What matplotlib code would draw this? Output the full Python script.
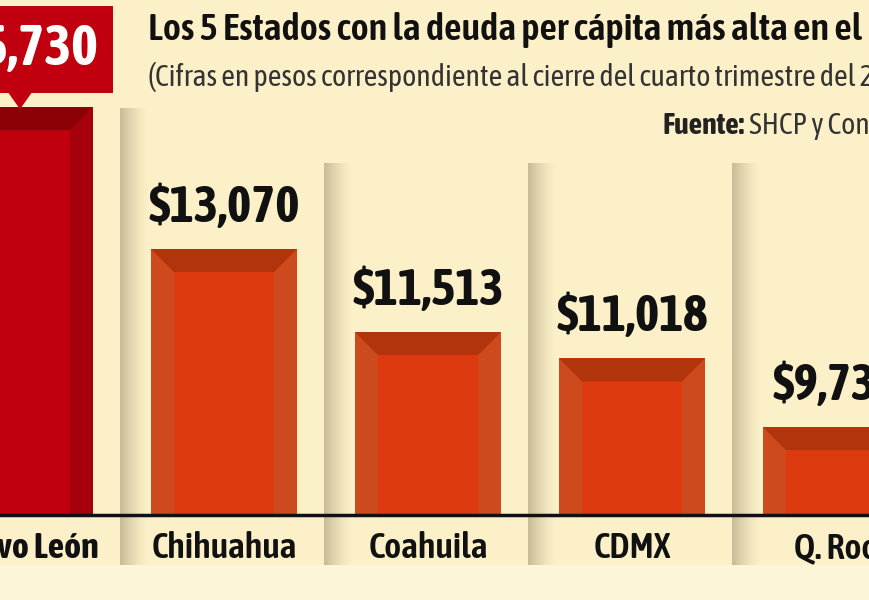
import matplotlib
matplotlib.use("Agg")
import matplotlib.pyplot as plt
from matplotlib.patches import Rectangle, Polygon
import numpy as np

# ---- data ----
states = ["Nuevo León", "Chihuahua", "Coahuila", "CDMX", "Q. Roo"]
values = [15730, 13070, 11513, 11018, 9730]
value_labels = ["$15,730", "$13,070", "$11,513", "$11,018", "$9,730"]
title = "Los 5 Estados con la deuda per cápita más alta en el País"
subtitle = "(Cifras en pesos correspondiente al cierre del cuarto trimestre del 2023)"
source_bold = "Fuente:"
source_rest = " SHCP y Conapo"

# ---- style ----
BG = "#FCF0C8"
BG_LOW = "#FDF5D8"
FACE = "#DE3A10"
SIDE = "#CD4A1E"
TOPB = "#B2340D"
NL_FACE = "#C0000E"
NL_SIDE = "#A6000C"
NL_TOP = "#8C0008"
FONT = ["Asap Condensed", "DejaVu Sans"]

W, H = 870, 600
BASE_PX = 515          # baseline pixel row (from top)
Y0 = 8080              # value at baseline
PXV = 18.76            # value per pixel
SLOT = 204.0           # pixels per category
X0PX = 20.0            # pixel of category 0 center

fig = plt.figure(figsize=(W / 100, H / 100), dpi=100)
fig.patch.set_facecolor(BG_LOW)
ax = fig.add_axes([0, (H - BASE_PX) / H, 1, BASE_PX / H])
ax.set_xlim(-X0PX / SLOT, (W - X0PX) / SLOT)
ax.set_ylim(Y0, Y0 + BASE_PX * PXV)
ax.axis("off")
ax.set_facecolor("none")

# upper background panel
fig.add_artist(Rectangle((0, (H - 565) / H), 1, 565 / H, transform=fig.transFigure,
                         facecolor=BG, edgecolor="none", zorder=0))

def dxp(px):
    return px / SLOT

def dyp(px):
    return px * PXV

# gradient shadow strips between categories
strip_tops = [108, 163, 163, 163]
for i, top in enumerate(strip_tops):
    xs = i + 0.49
    n = 14
    for k in range(n):
        a = 0.55 * (1 - k / n) ** 1.5
        r = Rectangle((xs + dxp(2 * k), Y0 + dyp(BASE_PX - top)), dxp(2.2),
                      -dyp(BASE_PX - top) - dyp(50), facecolor="#9E9370", alpha=a,
                      edgecolor="none", zorder=1, clip_on=False)
        ax.add_patch(r)

bw = 146 / SLOT
bev_x = dxp(23)
bev_y = dyp(23)
for i, (v, lab) in enumerate(zip(values, value_labels)):
    nl = i == 0
    face, side, topc = (NL_FACE, NL_SIDE, NL_TOP) if nl else (FACE, SIDE, TOPB)
    ax.bar(i, v - Y0, bottom=Y0, width=bw, color=face, edgecolor="none", zorder=2)
    l, r = i - bw / 2, i + bw / 2
    # side bevels
    ax.add_patch(Polygon([(l, Y0), (l, v), (l + bev_x, v - bev_y), (l + bev_x, Y0)],
                         closed=True, facecolor=side, edgecolor="none", zorder=3))
    ax.add_patch(Polygon([(r, Y0), (r, v), (r - bev_x, v - bev_y), (r - bev_x, Y0)],
                         closed=True, facecolor=side, edgecolor="none", zorder=3))
    # top bevel
    ax.add_patch(Polygon([(l, v), (r, v), (r - bev_x, v - bev_y), (l + bev_x, v - bev_y)],
                         closed=True, facecolor=topc, edgecolor="none", zorder=3))
    if nl:
        # red callout box with pointer
        bx_r = i + dxp(93)
        bx_l = i - dxp(120)
        yb = v + dyp(14)
        yt = v + dyp(101)
        ax.add_patch(Rectangle((bx_l, yb), bx_r - bx_l, yt - yb, facecolor=NL_FACE,
                               edgecolor="none", zorder=4, clip_on=False))
        ax.add_patch(Polygon([(i - dxp(12), yb + dyp(1)), (i + dxp(12), yb + dyp(1)), (i, v - dyp(2))],
                             closed=True, facecolor=NL_FACE, edgecolor="none", zorder=4))
        ax.text(i + dxp(78), (yb + yt) / 2, lab, ha="right", va="center", color="white",
                fontsize=41, fontweight="bold", family=FONT, zorder=5)
    else:
        ax.text(i, v + dyp(27), lab, ha="center", va="baseline", color="#111111",
                fontsize=37, fontweight="bold", family=FONT, zorder=5)
    ax.text(i, Y0 - dyp(33), states[i], ha="center", va="center", color="#111111",
            fontsize=26, fontweight="bold" if nl else "semibold", family=FONT,
            zorder=5, clip_on=False)

# baseline
ax.axhline(Y0, color="#111111", lw=2.5, zorder=6, clip_on=False)

# texts
fig.text(148 / W, 1 - 30 / H, title, ha="left", va="center", fontsize=27.5,
         fontweight="semibold", color="#111111", family=FONT)
fig.text(148 / W, 1 - 77 / H, subtitle, ha="left", va="center", fontsize=21.5,
         color="#333333", family=FONT)
t1 = fig.text(663 / W, 1 - 125 / H, source_bold, ha="left", va="center", fontsize=21.5,
              fontweight="bold", color="#222222", family=FONT)
fig.canvas.draw()
bb = t1.get_window_extent()
fig.text(bb.x1 / W, 1 - 125 / H, source_rest, ha="left", va="center", fontsize=21.5,
         color="#333333", family=FONT)

fig.savefig("out.png", dpi=100, facecolor=fig.get_facecolor())
